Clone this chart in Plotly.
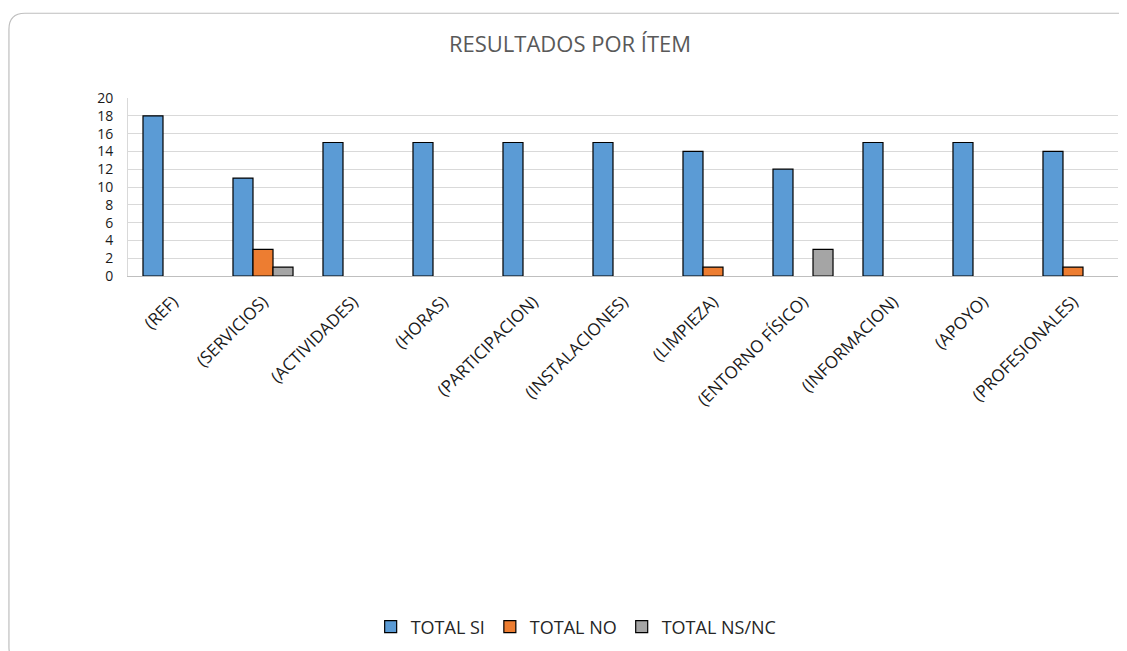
import plotly.graph_objects as go

categories = ["(REF)", "(SERVICIOS)", "(ACTIVIDADES)", "(HORAS)", "(PARTICIPACION)",
              "(INSTALACIONES)", "(LIMPIEZA)", "(ENTORNO FÍSICO)", "(INFORMACION)",
              "(APOYO)", "(PROFESIONALES)"]
total_si = [18, 11, 15, 15, 15, 15, 14, 12, 15, 15, 14]
total_no = [0, 3, 0, 0, 0, 0, 1, 0, 0, 0, 1]
total_nsnc = [0, 1, 0, 0, 0, 0, 0, 3, 0, 0, 0]
series_names = ["TOTAL SI", "TOTAL NO", "TOTAL NS/NC"]
colors = ["#5B9BD5", "#ED7D31", "#A5A5A5"]

OFF = 8  # page body margin
W, H = 1127 - OFF, 651 - OFF
L, R, T, B = 127.7 - OFF, 1118.0 - OFF, 97.5 - OFF, 276.0 - OFF
pw, ph = R - L, B - T

def px(x):
    return (x - OFF - L) / pw

def py(y):
    return (B - (y - OFF)) / ph

fig = go.Figure()
for name, vals, col in zip(series_names, [total_si, total_no, total_nsnc], colors):
    fig.add_trace(go.Bar(
        x=categories, y=[v if v else None for v in vals], name=name,
        marker=dict(color=col, line=dict(color="#000000", width=1.2)),
    ))

# rounded chart border
x0, y0, x1, y1, r = 8.6, 12.5, 1138, 664, 16
path = (f"M {px(x0+r)},{py(y0)} L {px(x1-r)},{py(y0)} Q {px(x1)},{py(y0)} {px(x1)},{py(y0+r)} "
        f"L {px(x1)},{py(y1-r)} Q {px(x1)},{py(y1)} {px(x1-r)},{py(y1)} "
        f"L {px(x0+r)},{py(y1)} Q {px(x0)},{py(y1)} {px(x0)},{py(y1-r)} "
        f"L {px(x0)},{py(y0+r)} Q {px(x0)},{py(y0)} {px(x0+r)},{py(y0)} Z")
fig.add_shape(type="path", xref="paper", yref="paper", path=path,
              line=dict(color="#BFBFBF", width=1.2), layer="below")

fig.update_layout(
    width=W, height=H,
    margin=dict(l=L, r=W - R, t=T, b=H - B, autoexpand=False),
    paper_bgcolor="white", plot_bgcolor="white",
    font=dict(family="Open Sans", color="#262626", size=14),
    title=dict(text="RESULTADOS POR ÍTEM", x=(570 - OFF) / W, xanchor="center",
               y=1 - (44 - OFF) / H, yanchor="middle",
               font=dict(size=22, color="#595959", family="Open Sans")),
    barmode="group", bargap=0.333, bargroupgap=0,
    showlegend=True,
    legend=dict(orientation="h", x=px(576), xanchor="center", y=py(628), yanchor="middle",
                font=dict(size=18, color="#262626"), itemwidth=30, traceorder="normal"),
    xaxis=dict(tickangle=-45, tickfont=dict(size=17, color="#1a1a1a"),
               ticklabelstandoff=8,
               showline=True, linecolor="#BFBFBF", linewidth=1, ticks=""),
    yaxis=dict(range=[0, 20], dtick=2, showgrid=True, gridcolor="#D9D9D9", gridwidth=1,
               zeroline=False, showline=True, linecolor="#D9D9D9", ticks="",
               ticklabelstandoff=11,
               tickfont=dict(size=14, color="#1a1a1a")),
)
fig.write_html("out.html")
